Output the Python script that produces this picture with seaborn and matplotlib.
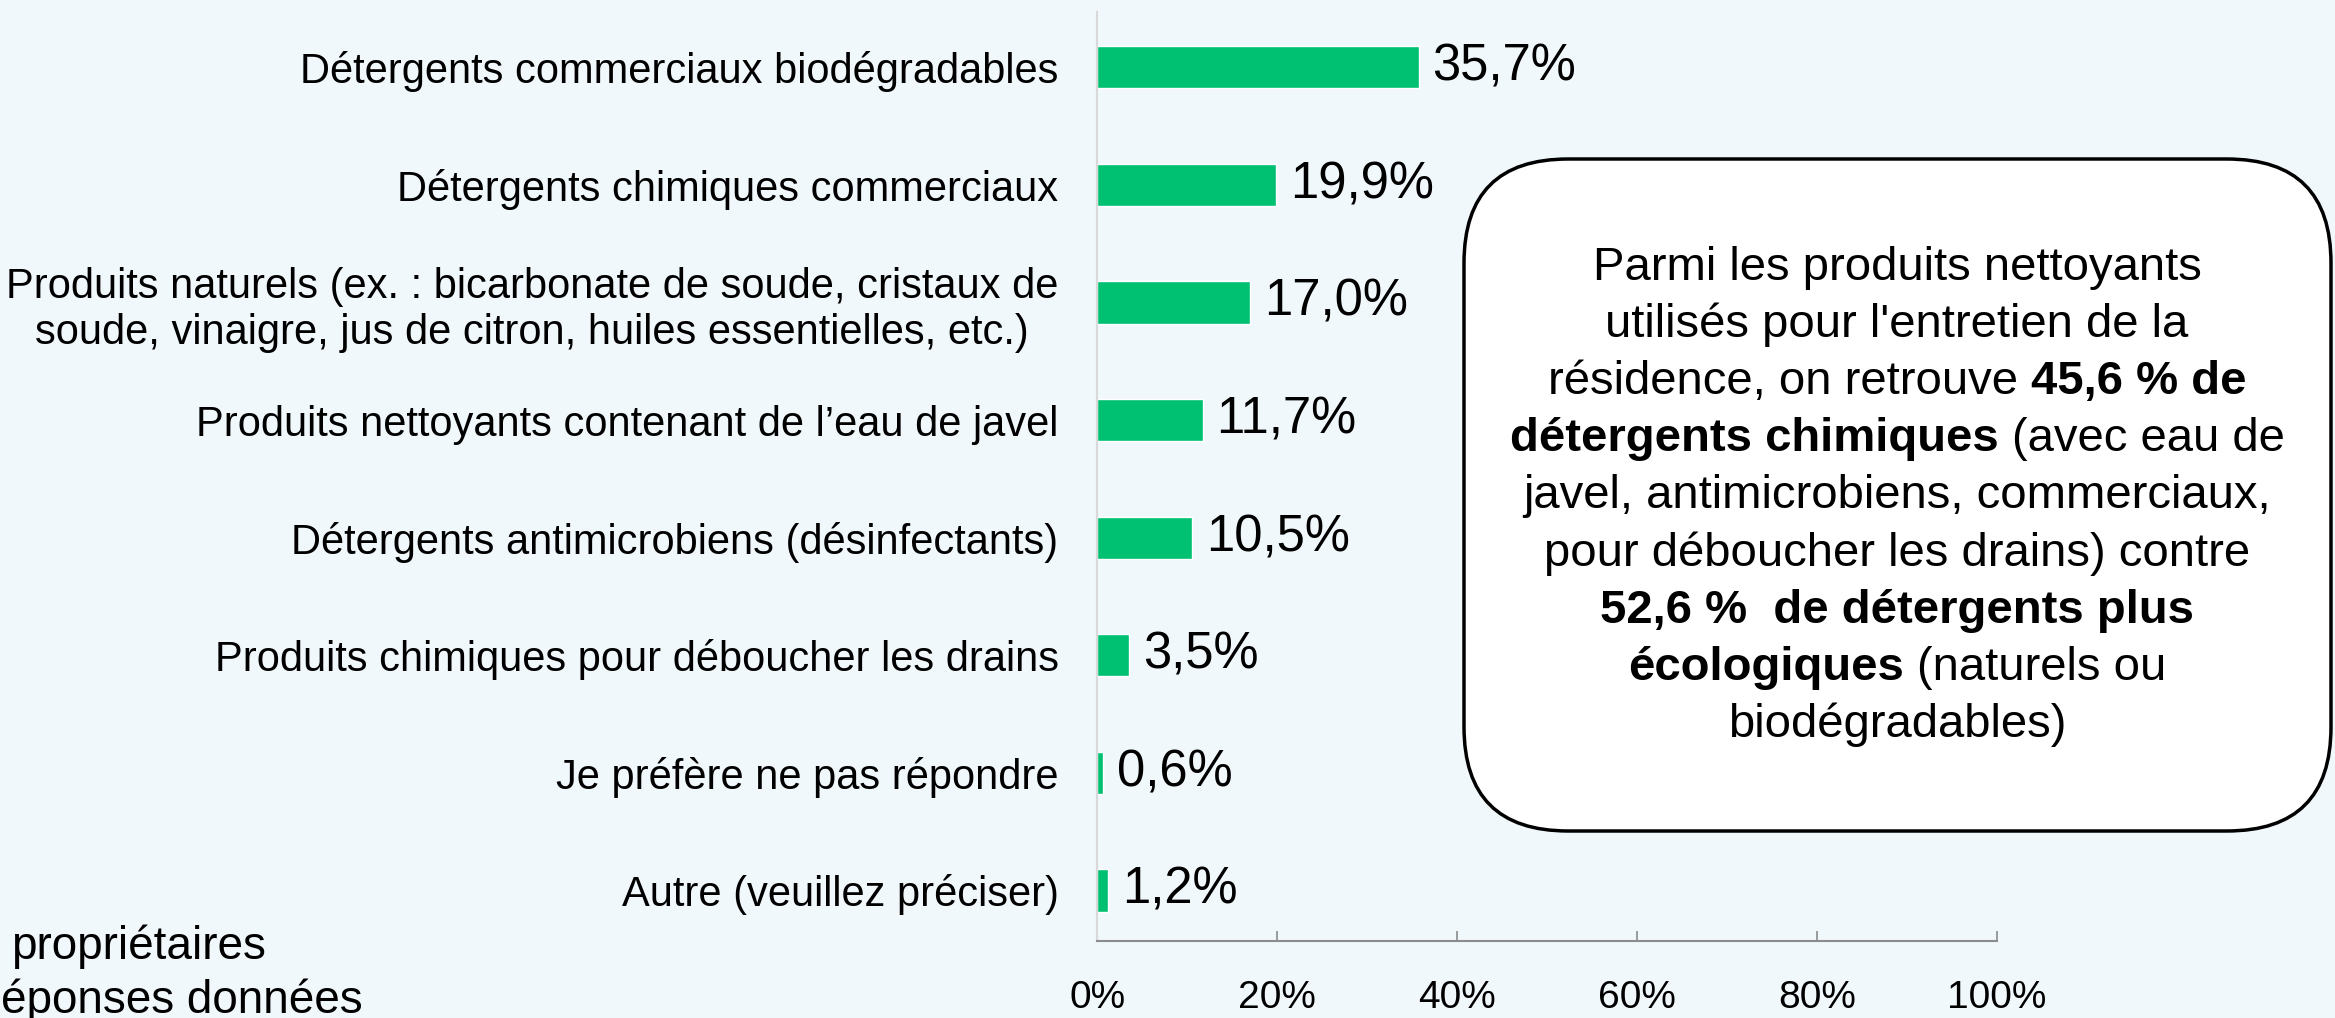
import matplotlib.pyplot as plt
import seaborn as sns
from matplotlib.patches import FancyBboxPatch
from matplotlib.transforms import IdentityTransform

sns.set_theme(style='white')
plt.rcParams['font.family'] = ['Liberation Sans', 'DejaVu Sans']
plt.rcParams['text.color'] = 'black'

BG = '#f1f8fc'
GREEN = '#00c072'

categories = [
    'Détergents commerciaux biodégradables',
    'Détergents chimiques commerciaux',
    'Produits naturels (ex. : bicarbonate de soude, cristaux de\n'
    'soude, vinaigre, jus de citron, huiles essentielles, etc.)',
    'Produits nettoyants contenant de l’eau de javel',
    'Détergents antimicrobiens (désinfectants)',
    'Produits chimiques pour déboucher les drains',
    'Je préfère ne pas répondre',
    'Autre (veuillez préciser)',
]
values = [35.7, 19.9, 17.0, 11.7, 10.5, 3.5, 0.6, 1.2]
x_ticks = [0, 20, 40, 60, 80, 100]

# texte de l'encadré, ligne par ligne : (texte, graisse)
box_lines = [
    [('Parmi les produits nettoyants', 'normal')],
    [("utilisés pour l'entretien de la", 'normal')],
    [('résidence, on retrouve', 'normal'), ('45,6 % de', 'bold')],
    [('détergents chimiques', 'bold'), ('(avec eau de', 'normal')],
    [('javel, antimicrobiens, commerciaux,', 'normal')],
    [('pour déboucher les drains) contre', 'normal')],
    [('52,6 %  de détergents plus', 'bold')],
    [('écologiques', 'bold'), ('(naturels ou', 'normal')],
    [('biodégradables)', 'normal')],
]

footnote_lines = ['propriétaires', 'éponses données']


def fmt_pct(v):
    return f'{v:.1f}'.replace('.', ',') + '%'


def draw_box_text(fig, lines, cx, y0, step, size):
    """Centre chaque ligne en enchaînant les morceaux normal / gras."""
    renderer = fig.canvas.get_renderer()
    tr = IdentityTransform()

    def width(s, w):
        t = fig.text(0, 0, s, fontsize=size, fontweight=w, transform=tr)
        wd = t.get_window_extent(renderer).width
        t.remove()
        return wd

    space = width('x x', 'normal') - width('xx', 'normal')
    for i, parts in enumerate(lines):
        y = y0 - i * step
        widths = [width(s, w) for s, w in parts]
        total = sum(widths) + space * (len(parts) - 1)
        x = cx - total / 2
        for (s, w), wd in zip(parts, widths):
            fig.text(x, y, s, fontsize=size, fontweight=w, transform=tr,
                     ha='left', va='center', color='black')
            x += wd + space


fig = plt.figure(figsize=(23.35, 10.18), dpi=100, facecolor=BG)
ax = fig.add_axes([0.470, 0.0756, 0.3852, 0.9126])
ax.set_facecolor(BG)

sns.barplot(x=values, y=categories, orient='h', color=GREEN, saturation=1,
            width=0.36, ax=ax)
ax.bar_label(ax.containers[0], labels=[fmt_pct(v) for v in values],
             padding=10, fontsize=36.5, color='black')

ax.set_xlim(0, 100)
ax.set_ylim(7.43, -0.47)
ax.set_xticks(x_ticks)
ax.set_xticklabels([f'{t}%' for t in x_ticks], fontsize=28)
ax.set_xlabel('')
ax.set_ylabel('')
ax.tick_params(axis='x', direction='in', length=7, width=1.2,
               color='#8c8c8c', labelcolor='black', pad=28, bottom=True)
ax.tick_params(axis='y', length=0, pad=28, labelsize=30, labelcolor='black')
for lbl in ax.get_yticklabels():
    lbl.set_multialignment('center')

sns.despine(ax=ax, top=True, right=True)
ax.spines['bottom'].set_color('#8c8c8c')
ax.spines['bottom'].set_linewidth(1.5)
ax.spines['left'].set_color('#d9d9d9')
ax.spines['left'].set_linewidth(1.5)

# encadré arrondi (coordonnées en pixels)
box = FancyBboxPatch((1464, 187), 867, 672,
                     boxstyle='round,pad=0,rounding_size=104',
                     facecolor='white', edgecolor='black', linewidth=2.5,
                     transform=IdentityTransform())
fig.add_artist(box)
draw_box_text(fig, box_lines, cx=1897, y0=1018 - 268, step=57.1, size=34)

# note en bas à gauche, coupée par le bord
fig.text(11, 71, footnote_lines[0], fontsize=33, va='center', ha='left',
         transform=IdentityTransform())
fig.text(1, 17, footnote_lines[1], fontsize=33, va='center', ha='left',
         transform=IdentityTransform())

fig.savefig('out.png', dpi=100, facecolor=BG)
